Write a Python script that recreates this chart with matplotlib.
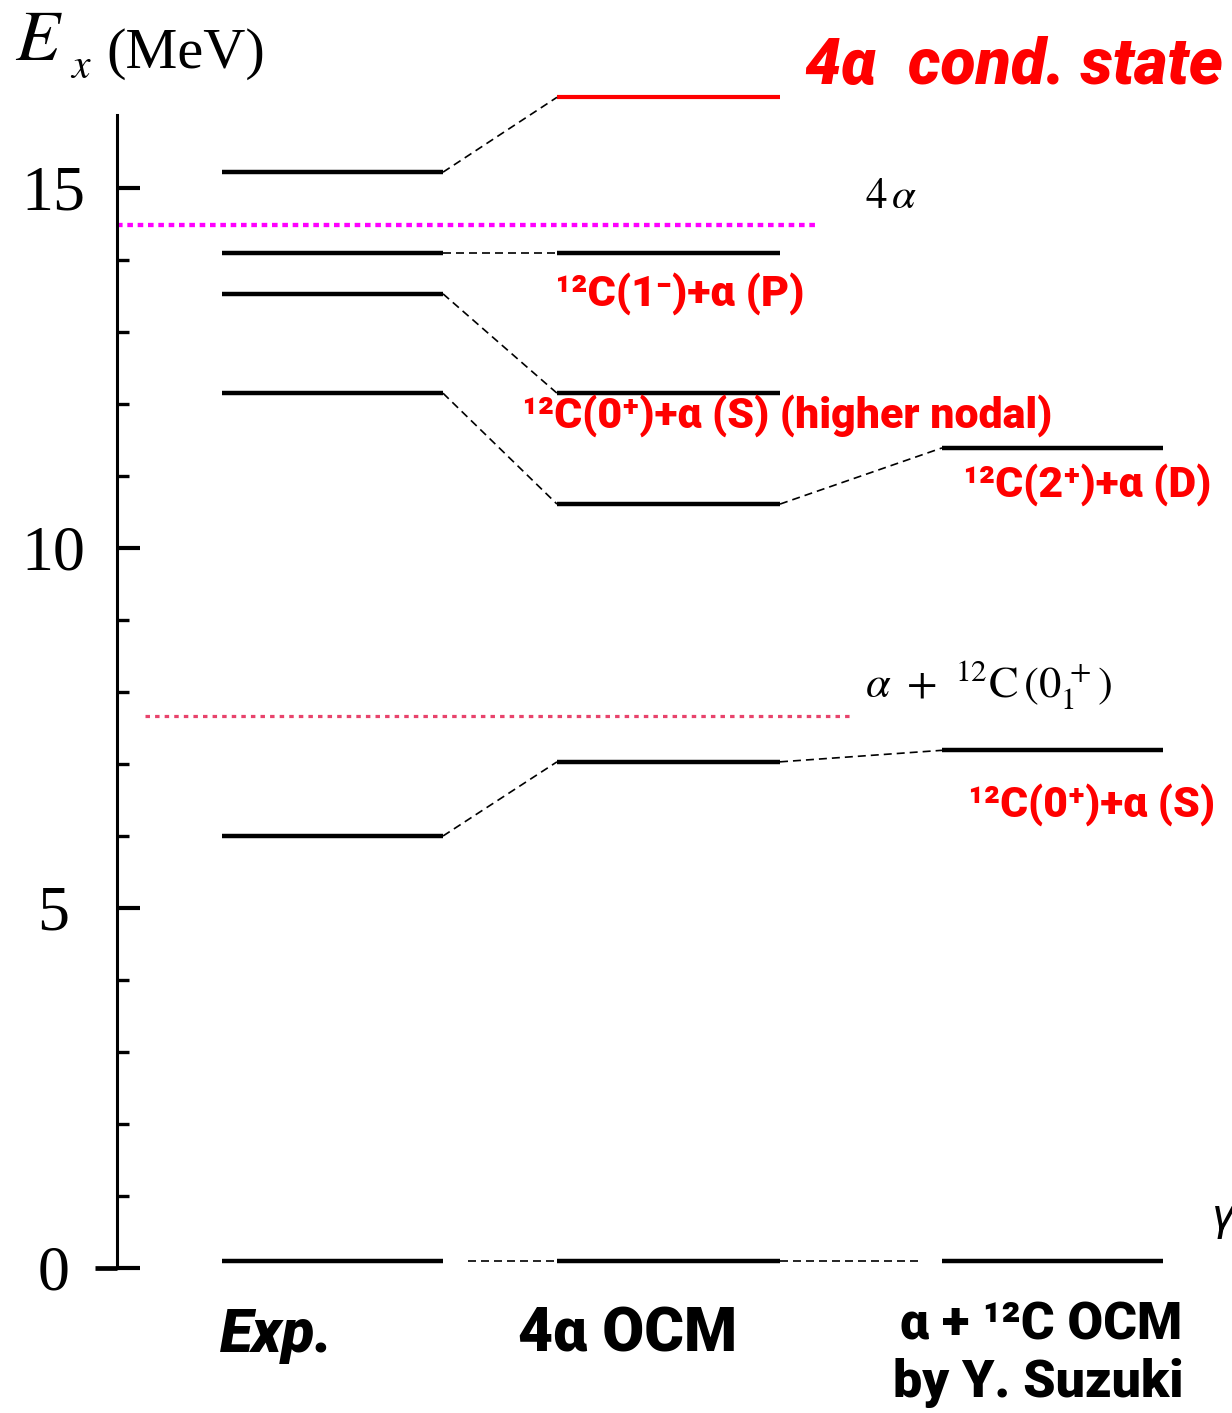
import matplotlib
matplotlib.use("Agg")
import matplotlib.pyplot as plt

# level energies (MeV)
EXP_LEVELS = [0.1, 6.0, 12.15, 13.53, 14.10, 15.22]
OCM4A_LEVELS = [0.1, 7.03, 10.61, 12.15, 14.10]
COND_LEVEL = 16.26
AC_LEVELS = [0.1, 7.19, 11.39]
THR_4A = 14.49
THR_AC = 7.67

# dashed correspondences: (left-column energy, right-column energy)
LINKS_EXP_4A = [(15.22, 16.26), (14.10, 14.10), (13.53, 12.15),
                (12.15, 10.61), (6.0, 7.03)]
LINKS_4A_AC = [(10.61, 11.39), (7.03, 7.19)]
GROUND = 0.1

YTICKS = [0, 5, 10, 15]
YMINOR = list(range(1, 15))

# layout in figure pixels
W, H = 1232, 1413
Y0_PX, YTOP_PX, PX_PER_MEV = 1268, 115, 72
SPINE_X = 117
EXP_X = (222, 443)
OCM_X = (557, 780)
AC_X = (942, 1163)

RED = "#FF0000"
SANS = ["Roboto", "DejaVu Sans"]
SERIF = ["Liberation Serif", "DejaVu Serif"]

fig = plt.figure(figsize=(W / 100, H / 100), dpi=100)
ax = fig.add_axes([0, (H - Y0_PX) / H, 1, (Y0_PX - YTOP_PX) / H])
ax.set_xlim(0, W)
ax.set_ylim(0, (Y0_PX - YTOP_PX) / PX_PER_MEV)
renderer = fig.canvas.get_renderer()

for s in ("top", "right", "bottom"):
    ax.spines[s].set_visible(False)
ax.spines["left"].set_position(("data", SPINE_X))
ax.spines["left"].set_linewidth(2.2)
ax.set_xticks([])
ax.set_yticks(YTICKS)
ax.set_yticks(YMINOR, minor=True)
ax.set_yticklabels([str(t) for t in YTICKS], fontfamily=SERIF, fontsize=46)
ax.tick_params(axis="y", which="major", direction="in", length=16.5,
               width=3, pad=46)
ax.tick_params(axis="y", which="minor", direction="in", length=8.6, width=2.4)
for lbl in ax.get_yticklabels():
    lbl.set_ha("center")
# the zero tick also sticks out to the left
ax.plot([SPINE_X - 22, SPINE_X], [0, 0], color="black", lw=3.4,
        solid_capstyle="butt", clip_on=False)

lvl_kw = dict(color="black", lw=3.2, solid_capstyle="butt", clip_on=False)
for e in EXP_LEVELS:
    ax.plot(EXP_X, [e, e], **lvl_kw)
for e in OCM4A_LEVELS:
    ax.plot(OCM_X, [e, e], **lvl_kw)
for e in AC_LEVELS:
    ax.plot(AC_X, [e, e], **lvl_kw)
ax.plot(OCM_X, [COND_LEVEL, COND_LEVEL], color=RED, lw=3.0,
        solid_capstyle="butt", clip_on=False)

dash_kw = dict(color="black", lw=1.2, linestyle=(0, (4.8, 3.0)), clip_on=False)
for a, b in LINKS_EXP_4A:
    ax.plot([EXP_X[1], OCM_X[0]], [a, b], **dash_kw)
for a, b in LINKS_4A_AC:
    ax.plot([OCM_X[1], AC_X[0]], [a, b], **dash_kw)
ax.plot([468, OCM_X[0] - 2], [GROUND, GROUND], **dash_kw)
ax.plot([OCM_X[1], 918], [GROUND, GROUND], **dash_kw)

# thresholds
ax.plot([SPINE_X, 815], [THR_4A, THR_4A], color="#FF00FF", lw=3.1,
        linestyle=(0, (1.3, 1.1)))
ax.plot([145, 850], [THR_AC, THR_AC], color="#E8446C", lw=2.3,
        linestyle=(0, (1.4, 1.6)))


def yv(px):
    return (Y0_PX - px) / PX_PER_MEV


def fit_text(x, ypx, s, width, **kw):
    """Place text, then scale its size so it spans `width` pixels."""
    t = ax.text(x, yv(ypx), s, va="baseline", ha="left", **kw)
    w = t.get_window_extent(renderer=renderer).width
    t.set_fontsize(t.get_fontsize() * width / w)
    return t


# axis title
ax.text(15, yv(60), "$E$", fontsize=52, math_fontfamily="stix",
        va="baseline", ha="left")
ax.text(70, yv(78), "$x$", fontsize=30, math_fontfamily="stix",
        va="baseline", ha="left")
ax.text(106, yv(68), "(MeV)", fontsize=42, fontfamily=SERIF,
        va="baseline", ha="left")

# threshold labels
ax.text(865, yv(208), r"$4\,\alpha$", fontsize=31, math_fontfamily="stix",
        va="baseline", ha="left")
ax.text(865, yv(697), r"$\alpha\ +\ ^{12}\mathrm{C}\,(0_1^{\,+})$",
        fontsize=32, math_fontfamily="stix", va="baseline", ha="left")

# red labels
red_kw = dict(color=RED, fontsize=30, fontweight="black", fontfamily=SANS)
fit_text(805, 84, "4α  cond. state", 418, style="italic", **red_kw)
fit_text(555, 306, "¹²C(1⁻)+α (P)", 250, **red_kw)
fit_text(522, 428, "¹²C(0⁺)+α (S) (higher nodal)", 530, **red_kw)
fit_text(963, 497, "¹²C(2⁺)+α (D)", 249, **red_kw)
fit_text(968, 817, "¹²C(0⁺)+α (S)", 247, **red_kw)

# column labels
col_kw = dict(color="black", fontsize=40, fontweight="black", fontfamily=SANS)
fit_text(220, 1352, "Exp.", 113, style="italic", **col_kw)
fit_text(518, 1352, "4α OCM", 219, **col_kw)
fit_text(900, 1340, "α + ¹²C OCM", 282, **col_kw)
fit_text(893, 1397, "by Y. Suzuki", 290, **col_kw)
# the reference shows this glyph cut by the right border
ax.text(1212, yv(1230), "γ", fontsize=34, color="black", style="italic",
        fontfamily=SANS, va="baseline", ha="left")

fig.savefig("out.png", dpi=100)
